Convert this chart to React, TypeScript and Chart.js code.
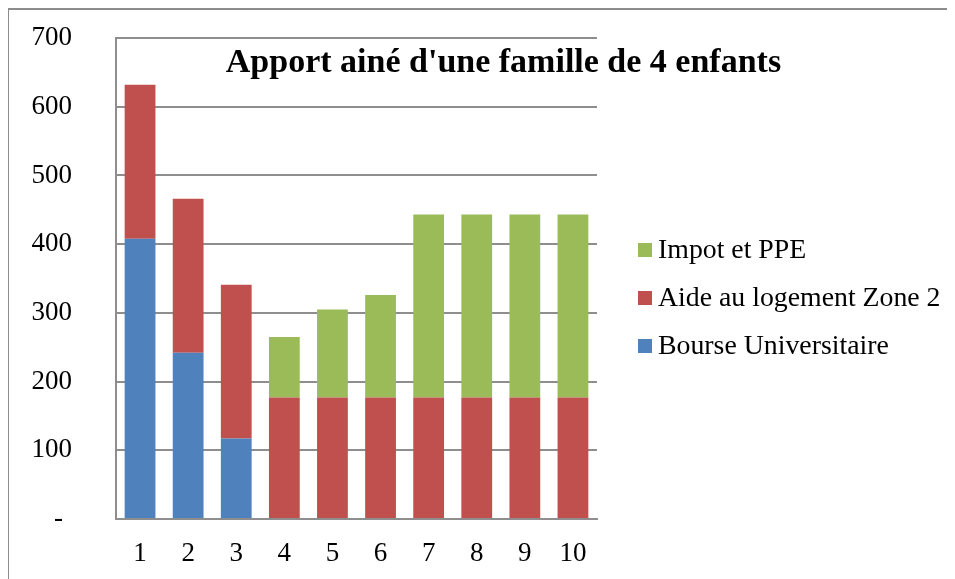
import React, { useEffect, useRef } from "react";
import { Chart, registerables } from "chart.js";

Chart.register(...registerables);

const TITLE = "Apport ainé d'une famille de 4 enfants";
const categories = ["1", "2", "3", "4", "5", "6", "7", "8", "9", "10"];
const bourse = [408, 242, 117, 0, 0, 0, 0, 0, 0, 0];
const aide = [224, 224, 224, 177, 177, 177, 177, 177, 177, 177];
const impot = [0, 0, 0, 88, 128, 149, 266, 266, 266, 266];
const seriesNames = ["Bourse Universitaire", "Aide au logement Zone 2", "Impot et PPE"];
const seriesColors = ["#4F81BD", "#C0504D", "#9BBB59"];
const yTicks = [0, 100, 200, 300, 400, 500, 600, 700];

const FONT = '"Liberation Serif", "Times New Roman", serif';
const GRID = "#8e8e8e";

const titlePlugin = {
  id: "innerTitle",
  afterDraw(chart: any) {
    const ctx = chart.ctx;
    ctx.save();
    ctx.font = `bold 34px ${FONT}`;
    ctx.fillStyle = "#000";
    ctx.textAlign = "center";
    ctx.textBaseline = "alphabetic";
    ctx.fillText(TITLE, chart.width * 0.5227, chart.chartArea.top + 34);
    ctx.restore();
  },
};

const sideLegendPlugin = {
  id: "sideLegend",
  afterDraw(chart: any) {
    const ctx = chart.ctx;
    const ds = chart.data.datasets.slice().reverse();
    const boxX = chart.chartArea.right + 41;
    const y0 = chart.height * 0.4218;
    const step = 48;
    ctx.save();
    ctx.font = `27.8px ${FONT}`;
    ctx.textAlign = "left";
    ctx.textBaseline = "middle";
    ds.forEach((d: any, i: number) => {
      const y = y0 + i * step;
      ctx.fillStyle = d.backgroundColor;
      ctx.fillRect(boxX, y - 7, 14, 14);
      ctx.fillStyle = "#000";
      ctx.fillText(d.label, boxX + 20, y + 1);
    });
    ctx.restore();
  },
};

export default function App() {
  const ref = useRef<HTMLCanvasElement | null>(null);
  useEffect(() => {
    if (!ref.current) return;
    const values = [bourse, aide, impot];
    const chart = new Chart(ref.current, {
      type: "bar",
      data: {
        labels: categories,
        datasets: values.map((d, i) => ({
          label: seriesNames[i],
          data: d,
          backgroundColor: seriesColors[i],
          borderWidth: 0,
          barPercentage: 0.64,
          categoryPercentage: 1,
        })),
      },
      plugins: [titlePlugin, sideLegendPlugin],
      options: {
        animation: false,
        responsive: false,
        layout: { padding: { left: 0, right: 358, top: 28, bottom: 0 } },
        plugins: {
          title: { display: false },
          tooltip: { enabled: false },
          legend: { display: false },
        },
        scales: {
          x: {
            stacked: true,
            grid: { display: false },
            border: { display: true, color: GRID, width: 2 },
            ticks: { color: "#000", font: { family: FONT, size: 27 }, padding: 11 },
            afterFit: (s: any) => {
              s.height = 60;
              s.paddingLeft = 0;
              s.paddingRight = 0;
            },
          },
          y: {
            stacked: true,
            min: 0,
            max: 700,
            afterBuildTicks: (s: any) => {
              s.ticks = yTicks.map((v) => ({ value: v }));
            },
            grid: { color: GRID, lineWidth: 2, drawTicks: false },
            border: { display: true, color: GRID, width: 2 },
            ticks: {
              color: "#000",
              font: { family: FONT, size: 27 },
              padding: 44,
              callback: (v: any) => (v === 0 ? "-\u2004" : String(v)),
            },
            afterFit: (s: any) => {
              s.width = 107;
              s.paddingTop = 0;
              s.paddingBottom = 0;
            },
          },
        },
      },
    } as any);
    return () => chart.destroy();
  }, []);

  return (
    <div
      style={{
        marginLeft: -1,
        width: 948,
        height: 571,
        borderTop: "2px solid #8c8c8c",
        borderLeft: "2px solid #8c8c8c",
        boxSizing: "border-box",
        overflow: "hidden",
      }}
    >
      <canvas ref={ref} width={946} height={569} style={{ display: "block" }} />
    </div>
  );
}
